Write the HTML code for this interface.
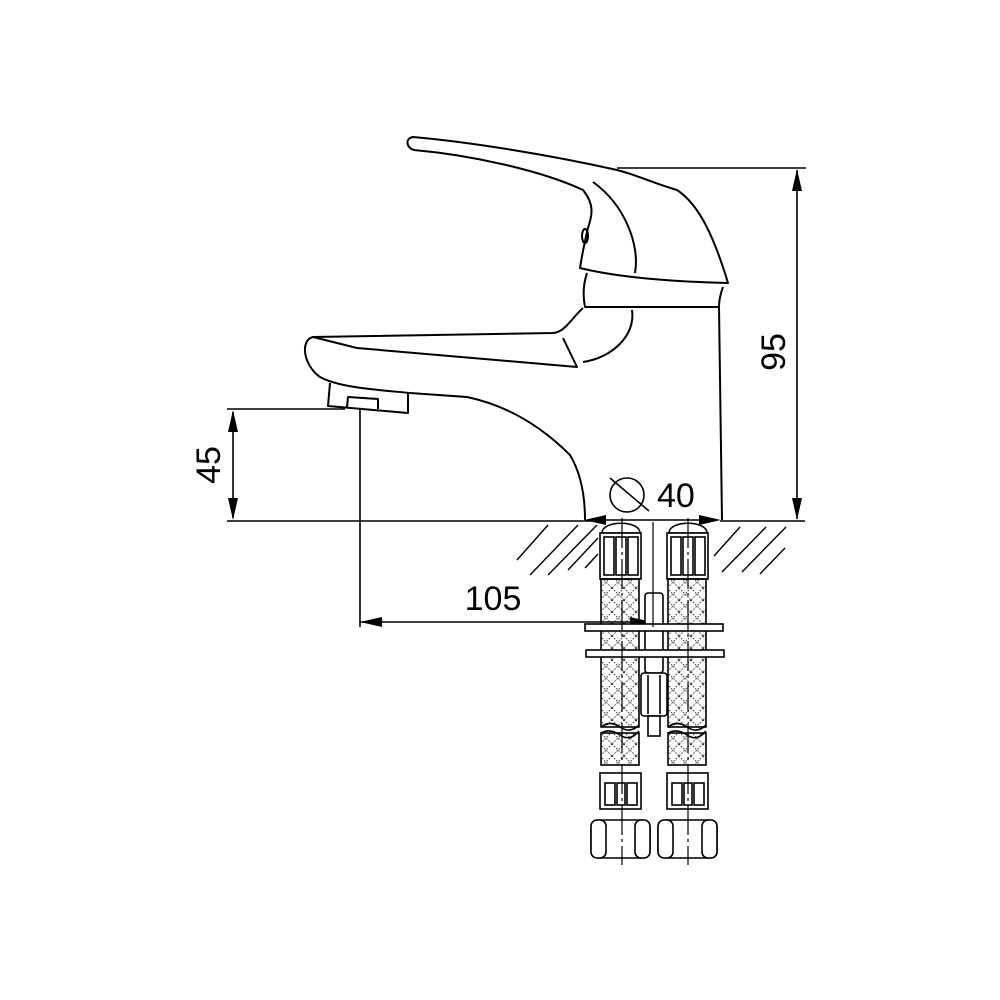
<!DOCTYPE html>
<html><head><style>html,body{margin:0;padding:0;background:#fff}svg{display:block}</style></head><body>
<svg width="1000" height="1000" viewBox="0 0 1000 1000" xmlns="http://www.w3.org/2000/svg">
<defs>
<pattern id="br" width="12" height="12" patternUnits="userSpaceOnUse">
<path d="M0 0L12 12M12 0L0 12" stroke="#333" stroke-width="1" stroke-dasharray="1.5 1.5"/>
</pattern>
</defs>
<rect width="1000" height="1000" fill="#fff"/>
<g fill="none" stroke="#000" stroke-width="2" stroke-linejoin="round">
<path d="M413 137 C405 138 406 148 414 150 C470 155 540 170 583 190 C595 205 592 215 588 228 C584 245 582 255 580 268 C620 278 680 282 728 283 C715 240 700 205 677 190 C650 182 640 176 617 170 C550 155 470 142 413 137 Z"/>
<path d="M593 182 C625 205 640 245 635 273"/>
<ellipse cx="585" cy="236" rx="3" ry="7"/>
<path d="M587 273 C583 285 583 297 585 307 L719 307"/>
<path d="M723 287 C720 295 719 300 719 307 L722 520"/>
<path d="M583 308 C570 320 565 332 553 333 L313 337 C300 340 303 365 320 377 C340 388 380 390 410 393 L467 397 C505 405 540 425 570 455 C582 475 585 500 585 520"/>
<path d="M313 337 L357 348 L577 367 L563 338"/>
<path d="M632 310 C636 335 612 358 583 362"/>
<path d="M330 383 L328 406 L408 413 L408 393"/>
<path d="M347 407 L348 397 L378 399 L378 409"/>
</g>
<g stroke="#000" stroke-width="1.6" fill="none">
<line x1="227" y1="409" x2="345" y2="409"/>
<line x1="227" y1="521" x2="600" y2="521"/>
<line x1="720" y1="521" x2="805" y2="521"/>
<line x1="233" y1="412" x2="233" y2="518"/>
<line x1="360" y1="409" x2="360" y2="627"/>
<line x1="360" y1="622" x2="650" y2="622"/>
<line x1="617" y1="168" x2="806" y2="168"/>
<line x1="797" y1="170" x2="797" y2="519"/>
<line x1="590" y1="520" x2="715" y2="520"/>
<circle cx="627" cy="495" r="17"/>
<line x1="610" y1="478" x2="649" y2="511"/>
</g>
<g fill="#000">
<path d="M233 410 L228 432 L238 432Z"/><path d="M233 520 L228 498 L238 498Z"/>
<path d="M797 169 L792 191 L802 191Z"/><path d="M797 520 L792 498 L802 498Z"/>
<path d="M360 622 L382 617 L382 627Z"/><path d="M652 622 L630 617 L630 627Z"/>
<path d="M584 520 L606 515 L606 525Z"/><path d="M721 520 L699 515 L699 525Z"/>
</g>
<g font-family="Liberation Sans, sans-serif" font-size="34" fill="#000">
<text x="493" y="610" text-anchor="middle">105</text>
<text x="657" y="507">40</text>
<text transform="translate(220,465) rotate(-90)" text-anchor="middle">45</text>
<text transform="translate(785,352) rotate(-90)" text-anchor="middle">95</text>
</g>
<g stroke="#000" stroke-width="1.4">
<line x1="517" y1="560" x2="548" y2="525"/><line x1="530" y1="575" x2="578" y2="525"/>
<line x1="548" y1="575" x2="597" y2="525"/><line x1="568" y1="570" x2="598" y2="538"/>
<line x1="585" y1="568" x2="598" y2="554"/>
<line x1="714" y1="556" x2="740" y2="527"/><line x1="722" y1="572" x2="766" y2="527"/>
<line x1="742" y1="572" x2="786" y2="527"/><line x1="760" y1="574" x2="785" y2="548"/>
</g>
<g stroke="#000" stroke-width="1.6" fill="#fff">
<g id="h">
<path d="M602 533 C602 520 640 520 640 533 Z"/>
<rect x="600" y="533" width="41" height="46"/>
<rect x="604" y="537" width="10" height="38"/><rect x="616" y="537" width="10" height="38"/><rect x="628" y="537" width="10" height="38"/>
<rect x="601" y="579" width="38" height="148" fill="url(#br)"/>
<rect x="601" y="733" width="38" height="32" fill="url(#br)"/>
<path d="M601 727 Q610 720 620 727 T639 725" fill="none"/>
<path d="M601 733 Q610 728 620 735 T639 731" fill="none"/>
<rect x="600" y="773" width="41" height="36"/>
<rect x="605" y="783" width="10" height="22"/><rect x="617" y="783" width="8" height="22"/><rect x="627" y="783" width="10" height="22"/>
<rect x="591" y="820" width="59" height="38" rx="8"/>
<rect x="591" y="820" width="15" height="38" rx="6"/>
<rect x="635" y="820" width="15" height="38" rx="6"/>
</g>
<use href="#h" x="67"/>
<rect x="645" y="593" width="18" height="80" rx="3"/>
<rect x="641" y="673" width="26" height="43" rx="3"/>
<line x1="648" y1="675" x2="648" y2="714"/><line x1="660" y1="675" x2="660" y2="714"/>
<rect x="648" y="716" width="12" height="20"/>
<rect x="585" y="624" width="138" height="7"/>
<rect x="586" y="650" width="138" height="7"/>
</g>
<g stroke="#000" stroke-width="1.2" stroke-dasharray="30 4 3 4">
<line x1="622" y1="518" x2="622" y2="865"/>
<line x1="688" y1="518" x2="688" y2="865"/>
</g>
<line x1="653" y1="522" x2="653" y2="627" stroke="#000" stroke-width="1.2"/>
</svg>
</body></html>
